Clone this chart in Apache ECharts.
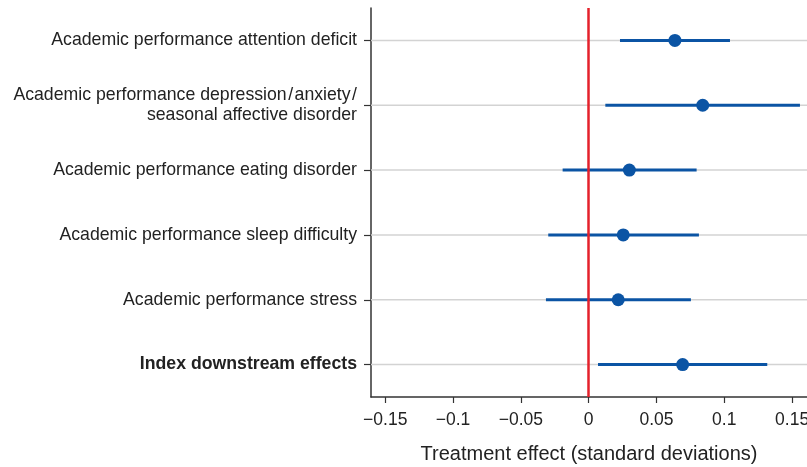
<!DOCTYPE html>
<html>
<head>
<meta charset="utf-8">
<script src="https://cdn.jsdelivr.net/npm/echarts@6/dist/echarts.min.js"></script>
<style>
  html, body { margin: 0; padding: 0; background: #fff; }
  #chart { width: 807px; height: 467px; }
</style>
</head>
<body>
<div id="chart"></div>
<script>
// outcome labels, top to bottom
var categories = [
  'Academic performance attention deficit',
  'Academic performance depression\u200a/\u200aanxiety\u200a/\nseasonal affective disorder',
  'Academic performance eating disorder',
  'Academic performance sleep difficulty',
  'Academic performance stress',
  'Index downstream effects'
]
var estimates = [0.0636, 0.0841, 0.0300, 0.0255, 0.0218, 0.0693]
var ciLow = [0.0231, 0.0123, -0.0192, -0.0298, -0.0315, 0.0069]
var ciHigh = [0.1042, 0.1558, 0.0796, 0.0813, 0.0754, 0.1317]
var xTicks = [-0.15, -0.1, -0.05, 0, 0.05, 0.1, 0.15]

var blue = '#0b54a4'
var myChart = echarts.init(document.getElementById('chart'))

var ciData = categories.map(function (c, i) {
  return [ciLow[i], ciHigh[i], i]
})
var pointData = categories.map(function (c, i) {
  return [estimates[i], i]
})

var option = {
  animation: false,
  grid: { left: 371, right: 0, top: 8, bottom: 70, containLabel: false, outerBoundsMode: 'none' },
  xAxis: {
    type: 'value',
    min: -0.1605,
    max: 0.161,
    name: 'Treatment effect (standard deviations)',
    nameLocation: 'middle',
    nameGap: 47,
    nameTextStyle: { fontFamily: 'Liberation Sans', fontSize: 20, color: '#222' },
    axisLine: { show: true, onZero: false, lineStyle: { color: '#333', width: 1.5 } },
    axisTick: { show: true, length: 6, customValues: xTicks, lineStyle: { color: '#333', width: 1.2 } },
    axisLabel: {
      customValues: xTicks,
      margin: 14,
      fontFamily: 'Liberation Sans',
      fontSize: 17.5,
      color: '#222',
      hideOverlap: false,
      formatter: function (v) {
        var s = String(+v.toFixed(2))
        return s.replace('-', '\u2212')
      }
    },
    splitLine: { show: false }
  },
  yAxis: {
    type: 'category',
    inverse: true,
    data: categories,
    axisLine: { show: true, onZero: false, lineStyle: { color: '#333', width: 1.5 } },
    axisTick: { show: true, alignWithLabel: true, length: 7, lineStyle: { color: '#333', width: 1.2 } },
    axisLabel: {
      margin: 14,
      fontFamily: 'Liberation Sans',
      fontSize: 17.7,
      color: '#222',
      lineHeight: 20,
      formatter: function (v) {
        if (v.indexOf('Index') === 0) return '{b|' + v + '}'
        return v
      },
      rich: {
        b: { fontWeight: 'bold', fontFamily: 'Liberation Sans', fontSize: 17.7, color: '#222' }
      }
    },
    splitLine: { show: false }
  },
  series: [
    {
      // horizontal reference lines + confidence intervals
      type: 'custom',
      z: 2,
      data: ciData,
      encode: { x: [0, 1], y: 2 },
      renderItem: function (params, api) {
        var lo = api.coord([api.value(0), api.value(2)])
        var hi = api.coord([api.value(1), api.value(2)])
        var cs = params.coordSys
        return {
          type: 'group',
          children: [
            {
              type: 'line',
              shape: { x1: cs.x, y1: lo[1], x2: cs.x + cs.width, y2: lo[1] },
              style: { stroke: '#d3d3d3', lineWidth: 1.5 },
              z2: 0
            },
            {
              type: 'line',
              shape: { x1: lo[0], y1: lo[1], x2: hi[0], y2: hi[1] },
              style: { stroke: blue, lineWidth: 3 },
              z2: 1
            }
          ]
        }
      }
    },
    {
      type: 'scatter',
      z: 3,
      data: pointData,
      symbol: 'circle',
      symbolSize: 13,
      itemStyle: { color: blue, opacity: 1 },
      markLine: {
        silent: true,
        symbol: 'none',
        label: { show: false },
        lineStyle: { color: '#e4212b', width: 2.5, type: 'solid' },
        data: [{ xAxis: 0 }]
      }
    }
  ]
}
myChart.setOption(option)
</script>
</body>
</html>
